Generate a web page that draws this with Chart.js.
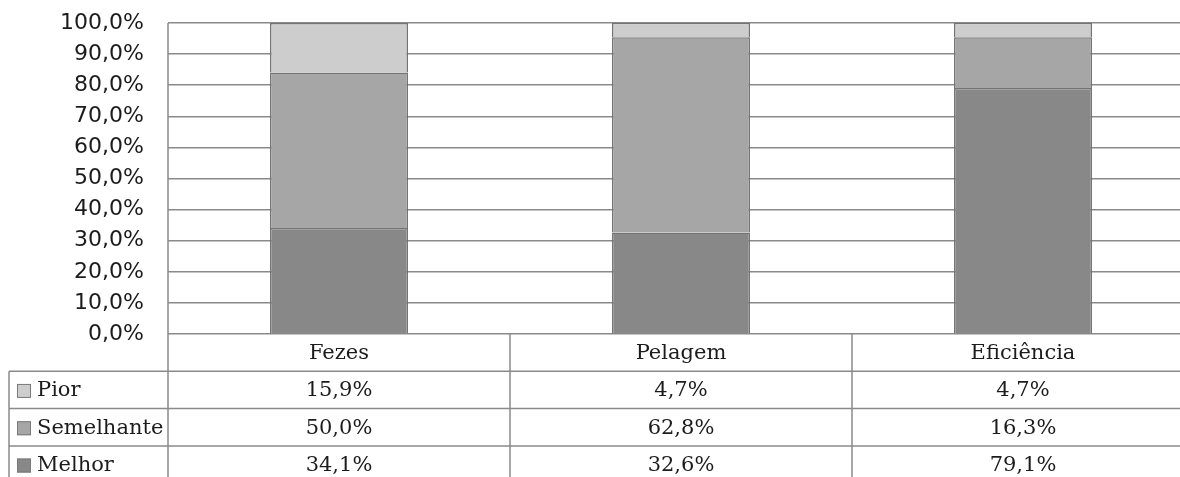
<!DOCTYPE html>
<html lang="pt">
<head>
    <meta charset="UTF-8">
    <title>Fezes, Pelagem, Eficiência</title>
    <style>
        html, body {
            margin: 0;
            padding: 0;
            overflow: hidden;
            background: #fff;
        }
        #chart {
            display: block;
        }
    </style>
</head>
<body>
    <canvas id="chart" width="1200" height="490" style="width:1200px;height:490px"></canvas>
    <script src="https://cdn.jsdelivr.net/npm/chart.js"></script>
    <script>
        // data (percent)
        var categories = ['Fezes', 'Pelagem', 'Eficiência'];
        var pior = [15.9, 4.7, 4.7];
        var semelhante = [50.0, 62.8, 16.3];
        var melhor = [34.1, 32.6, 79.1];
        var yTicks = [0, 10, 20, 30, 40, 50, 60, 70, 80, 90, 100];

        function pct(v) {
            return v.toFixed(1).replace('.', ',') + '%';
        }

        var lineColor = '#8a8a8a';
        var textColor = '#1c1c1c';
        var tableFont = '21px "DejaVu Serif", serif';

        // rows of the table, top to bottom
        var tableRows = [
            { label: 'Pior', values: pior, color: '#cdcdcd' },
            { label: 'Semelhante', values: semelhante, color: '#a6a6a6' },
            { label: 'Melhor', values: melhor, color: '#888888' }
        ];

        // draws the data table under the plot, using the x scale for the columns
        var dataTable = {
            id: 'dataTable',
            afterDraw: function(chart) {
                var ctx = chart.ctx;
                var area = chart.chartArea;
                var x = chart.scales.x;
                var rowH = 37.3;
                var top = area.bottom;
                var bottom = chart.height;
                var tableLeft = 9;
                var colW = x.getPixelForValue(1) - x.getPixelForValue(0);

                ctx.save();
                ctx.strokeStyle = lineColor;
                ctx.lineWidth = 1.5;

                // y axis line, down through the table
                ctx.beginPath();
                ctx.moveTo(area.left, area.top);
                ctx.lineTo(area.left, bottom);
                // column dividers
                for (var i = 1; i < categories.length; i++) {
                    var cx = x.getPixelForValue(i) - colW / 2;
                    ctx.moveTo(cx, top);
                    ctx.lineTo(cx, bottom);
                }
                // left border of the legend column
                ctx.moveTo(tableLeft, top + rowH);
                ctx.lineTo(tableLeft, bottom);
                // row lines
                for (var r = 1; r <= tableRows.length; r++) {
                    var ry = top + rowH * r;
                    ctx.moveTo(tableLeft, ry);
                    ctx.lineTo(chart.width, ry);
                }
                ctx.stroke();

                ctx.font = tableFont;
                ctx.fillStyle = textColor;
                ctx.textBaseline = 'middle';
                ctx.textAlign = 'center';

                // header: category names
                categories.forEach(function(c, i) {
                    ctx.fillText(c, x.getPixelForValue(i), top + rowH / 2 + 1);
                });

                tableRows.forEach(function(row, r) {
                    var cy = top + rowH * (r + 1) + rowH / 2 + 1;
                    // legend key
                    ctx.fillStyle = row.color;
                    ctx.fillRect(17, cy - 7, 14, 14);
                    ctx.strokeStyle = '#7a7a7a';
                    ctx.lineWidth = 1;
                    ctx.strokeRect(17.5, cy - 6.5, 13, 13);
                    ctx.fillStyle = textColor;
                    ctx.textAlign = 'left';
                    ctx.fillText(row.label, 37, cy);
                    ctx.textAlign = 'center';
                    row.values.forEach(function(v, i) {
                        ctx.fillText(pct(v), x.getPixelForValue(i), cy);
                    });
                });
                ctx.restore();
            }
        };

        var ctx = document.getElementById('chart').getContext('2d');
        var myChart = new Chart(ctx, {
            type: 'bar',
            data: {
                labels: categories,
                datasets: [
                    { label: 'Melhor', data: melhor, backgroundColor: '#888888' },
                    { label: 'Semelhante', data: semelhante, backgroundColor: '#a6a6a6' },
                    { label: 'Pior', data: pior, backgroundColor: '#cdcdcd' }
                ].map(function(d) {
                    d.borderColor = '#747474';
                    d.borderWidth = 1.5;
                    d.barPercentage = 0.4035;
                    d.categoryPercentage = 1;
                    return d;
                })
            },
            options: {
                responsive: false,
                animation: false,
                layout: {
                    padding: { top: 23, right: 6, bottom: 156, left: 0 }
                },
                plugins: {
                    legend: { display: false },
                    tooltip: { enabled: false }
                },
                scales: {
                    x: {
                        stacked: true,
                        display: false
                    },
                    y: {
                        stacked: true,
                        min: 0,
                        max: 100,
                        afterBuildTicks: function(scale) {
                            scale.ticks = yTicks.map(function(v) { return { value: v }; });
                        },
                        afterFit: function(scale) {
                            scale.width = 168;
                            scale.paddingTop = 0;
                            scale.paddingBottom = 0;
                        },
                        border: { display: false },
                        grid: {
                            color: lineColor,
                            lineWidth: 1.5,
                            drawTicks: false
                        },
                        ticks: {
                            padding: 24,
                            color: textColor,
                            font: { family: '"DejaVu Sans", sans-serif', size: 22 },
                            callback: function(v) { return pct(v); }
                        }
                    }
                }
            },
            plugins: [dataTable]
        });
    </script>
</body>
</html>
